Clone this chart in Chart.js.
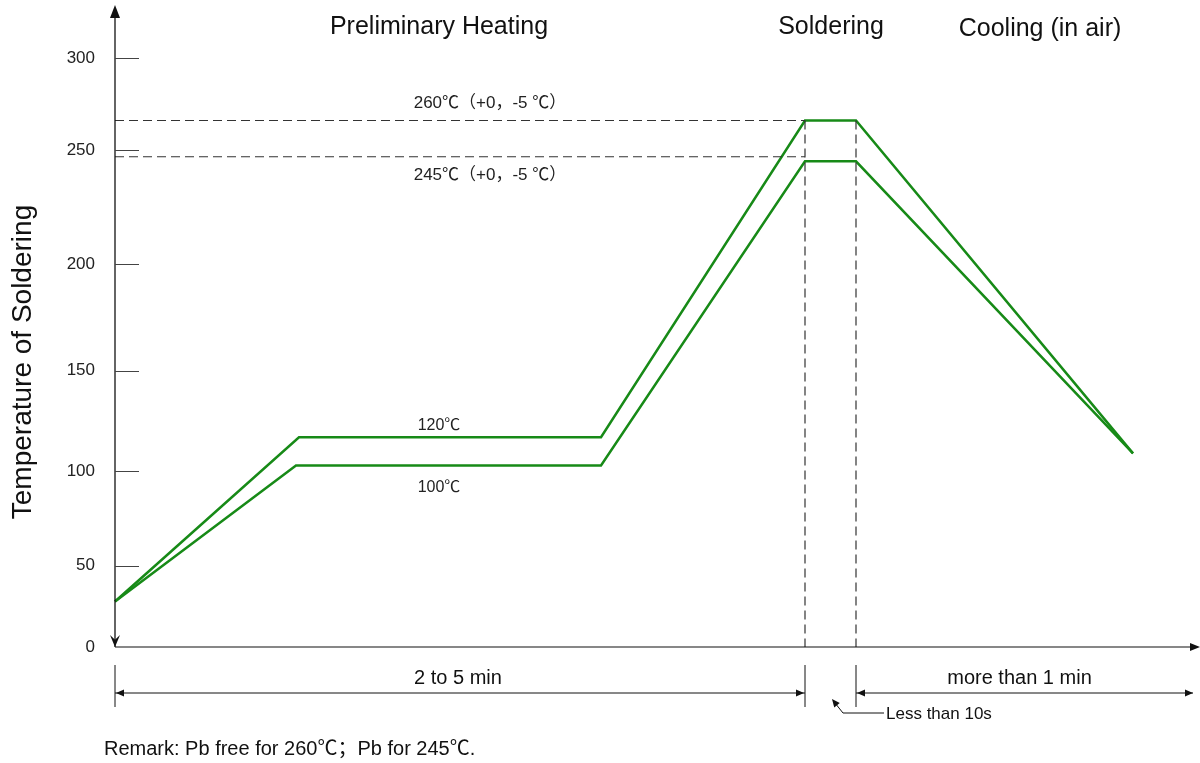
<!DOCTYPE html>
<html>
<head>
<meta charset="utf-8">
<script src="https://cdn.jsdelivr.net/npm/chart.js@4/dist/chart.umd.min.js"></script>
<style>
    body { margin: 0; background: #fff; }
</style>
</head>
<body>
<canvas id="profileChart" width="1200" height="763"></canvas>
<script>
// Soldering temperature profile (schematic)
// x = schematic time units, y = temperature in °C
const timeUpper = [0, 184, 486, 690, 741, 1018];
const tempUpper = [28, 117, 117, 266, 266, 109];   // Pb free (260℃)
const timeLower = [0, 181, 486, 690, 741, 1018];
const tempLower = [28, 103, 103, 245, 245, 109];   // Pb (245℃)
const yTickValues = [0, 50, 100, 150, 200, 250, 300];
const refTemps = [266, 247];          // dashed peak guides
const solderStart = 690;
const solderEnd = 741;
const coolingEnd = 1078;

const phaseTitles = ['Preliminary Heating', 'Soldering', 'Cooling (in air)'];
const FONT = '"Liberation Sans", Arial, sans-serif';
const CJK_FONT = '"Noto Sans CJK SC", sans-serif';
const GREEN = '#178a17';

// the drawn axis is not evenly spaced, so map ticks onto these fractions
const tickFractions = [0, 0.138, 0.298, 0.469, 0.650, 0.844, 1];

function valueToFraction(v) {
    for (let i = 1; i < yTickValues.length; i++) {
        if (v <= yTickValues[i] || i === yTickValues.length - 1) {
            const t = (v - yTickValues[i - 1]) / (yTickValues[i] - yTickValues[i - 1]);
            return tickFractions[i - 1] + t * (tickFractions[i] - tickFractions[i - 1]);
        }
    }
    return 0;
}
function fractionToValue(d) {
    for (let i = 1; i < tickFractions.length; i++) {
        if (d <= tickFractions[i] || i === tickFractions.length - 1) {
            const t = (d - tickFractions[i - 1]) / (tickFractions[i] - tickFractions[i - 1]);
            return yTickValues[i - 1] + t * (yTickValues[i] - yTickValues[i - 1]);
        }
    }
    return 0;
}

class SchematicScale extends Chart.LinearScale {
    getPixelForValue(value) {
        if (value === null || value === undefined) return NaN;
        return this.getPixelForDecimal(valueToFraction(value));
    }
    getValueForPixel(pixel) {
        return fractionToValue(this.getDecimalForPixel(pixel));
    }
}
SchematicScale.id = 'schematic';
SchematicScale.defaults = Chart.LinearScale.defaults;
Chart.register(SchematicScale);

function toPoints(xs, ys) {
    return xs.map((x, i) => ({ x: x, y: ys[i] }));
}

function arrowHead(ctx, x, y, dir, len, half) {
    ctx.beginPath();
    ctx.moveTo(x, y);
    if (dir === 'up') { ctx.lineTo(x - half, y + len); ctx.lineTo(x + half, y + len); }
    if (dir === 'down') { ctx.lineTo(x - half, y - len); ctx.lineTo(x, y - len * 0.6); ctx.lineTo(x + half, y - len); }
    if (dir === 'left') { ctx.lineTo(x + len, y - half); ctx.lineTo(x + len, y + half); }
    if (dir === 'right') { ctx.lineTo(x - len, y - half); ctx.lineTo(x - len, y + half); }
    ctx.closePath();
    ctx.fill();
}

function line(ctx, x1, y1, x2, y2) {
    ctx.beginPath();
    ctx.moveTo(x1, y1);
    ctx.lineTo(x2, y2);
    ctx.stroke();
}

// latin runs in Arial-like font, ℃ and full-width punctuation in the CJK font
function text(ctx, str, x, y, size, align, color) {
    const runs = [];
    for (const ch of str) {
        const cjk = '℃（），；'.includes(ch);
        const last = runs[runs.length - 1];
        if (last && last.cjk === cjk) last.s += ch;
        else runs.push({ s: ch, cjk: cjk });
    }
    ctx.textBaseline = 'alphabetic';
    ctx.textAlign = 'left';
    ctx.fillStyle = color || '#222';
    let total = 0;
    runs.forEach(r => {
        ctx.font = size + 'px ' + (r.cjk ? CJK_FONT : FONT);
        r.w = ctx.measureText(r.s).width;
        total += r.w;
    });
    let cx = x;
    if (align === 'center' || !align) cx = x - total / 2;
    if (align === 'right') cx = x - total;
    const base = y + size * 0.36;
    runs.forEach(r => {
        ctx.font = size + 'px ' + (r.cjk ? CJK_FONT : FONT);
        ctx.fillText(r.s, cx, base);
        cx += r.w;
    });
}

const decorations = {
    id: 'decorations',
    afterDraw(chart) {
        const ctx = chart.ctx;
        const xs = chart.scales.x;
        const ys = chart.scales.y;
        const x0 = xs.getPixelForValue(0);
        const y0 = ys.getPixelForValue(0);
        ctx.save();
        ctx.strokeStyle = '#111';
        ctx.fillStyle = '#111';
        ctx.lineWidth = 1.3;

        // y axis with arrows
        line(ctx, x0, 10, x0, y0);
        arrowHead(ctx, x0, 5, 'up', 13, 5);
        arrowHead(ctx, x0, y0, 'down', 12, 5);
        // tick marks
        ctx.strokeStyle = '#444';
        ctx.lineWidth = 1;
        yTickValues.forEach(v => {
            const py = Math.round(ys.getPixelForValue(v)) + 0.5;
            if (v > 0) line(ctx, x0, py, x0 + 24, py);
        });
        // x axis with arrow
        ctx.strokeStyle = '#111';
        ctx.lineWidth = 1.2;
        line(ctx, x0, y0, 1192, y0);
        arrowHead(ctx, 1200, y0, 'right', 10, 4);

        // duration markers under the axis
        const xs1 = xs.getPixelForValue(solderStart);
        const xs2 = xs.getPixelForValue(solderEnd);
        const xe = xs.getPixelForValue(coolingEnd);
        const barTop = y0 + 18, barBottom = y0 + 60, arrowY = y0 + 46;
        ctx.lineWidth = 1;
        [x0, xs1, xs2].forEach(px => line(ctx, px, barTop, px, barBottom));
        line(ctx, x0, arrowY, xs1, arrowY);
        arrowHead(ctx, x0 + 1, arrowY, 'left', 8, 3.5);
        arrowHead(ctx, xs1 - 1, arrowY, 'right', 8, 3.5);
        line(ctx, xs2, arrowY, xe, arrowY);
        arrowHead(ctx, xs2 + 1, arrowY, 'left', 8, 3.5);
        arrowHead(ctx, xe, arrowY, 'right', 8, 3.5);

        // "Less than 10s" leader
        line(ctx, 884, 713, 843, 713);
        line(ctx, 843, 713, 835, 703);
        ctx.save();
        ctx.translate(832, 699);
        ctx.rotate(Math.atan2(-10, -8));
        arrowHead(ctx, 0, 0, 'right', 8, 3.5);
        ctx.restore();

        // titles
        text(ctx, phaseTitles[0], 439, 25, 25, 'center', '#111');
        text(ctx, phaseTitles[1], 831, 25, 25, 'center', '#111');
        text(ctx, phaseTitles[2], 1040, 27, 25, 'center', '#111');

        ctx.save();
        ctx.translate(21, 362);
        ctx.rotate(-Math.PI / 2);
        text(ctx, 'Temperature of Soldering', 0, 0, 28, 'center', '#111');
        ctx.restore();

        // annotations
        text(ctx, '260℃（+0，-5 ℃）', 490, ys.getPixelForValue(refTemps[0]) - 19, 17, 'center', '#222');
        text(ctx, '245℃（+0，-5 ℃）', 490, ys.getPixelForValue(refTemps[1]) + 17, 17, 'center', '#222');
        text(ctx, '120℃', 439, ys.getPixelForValue(tempUpper[1]) - 13, 16, 'center', '#222');
        text(ctx, '100℃', 439, ys.getPixelForValue(tempLower[1]) + 21, 16, 'center', '#222');

        text(ctx, '2 to 5 min', (x0 + xs1) / 2 - 2, y0 + 30, 20, 'center', '#111');
        text(ctx, 'more than 1 min', (xs2 + xe) / 2 - 5, y0 + 30, 20, 'center', '#111');
        text(ctx, 'Less than 10s', 886, 713, 17, 'left', '#111');
        text(ctx, 'Remark: Pb free for 260℃；Pb for 245℃.', 104, 748, 20, 'left', '#111');
        ctx.restore();
    }
};

function profileLine(points) {
    return {
        data: points,
        borderColor: GREEN,
        borderWidth: 2.5,
        pointRadius: 0,
        tension: 0,
        fill: false,
        clip: false
    };
}
function guideLine(points) {
    return {
        data: points,
        borderColor: '#333',
        borderWidth: 1.2,
        borderDash: [9, 5],
        pointRadius: 0,
        tension: 0,
        fill: false,
        clip: false
    };
}

new Chart(document.getElementById('profileChart'), {
    type: 'line',
    data: {
        datasets: [
            guideLine([{ x: 0, y: refTemps[0] }, { x: solderStart, y: refTemps[0] }]),
            guideLine([{ x: 0, y: refTemps[1] }, { x: solderStart, y: refTemps[1] }]),
            guideLine([{ x: solderStart, y: refTemps[0] }, { x: solderStart, y: 0 }]),
            guideLine([{ x: solderEnd, y: refTemps[0] }, { x: solderEnd, y: 0 }]),
            profileLine(toPoints(timeUpper, tempUpper)),
            profileLine(toPoints(timeLower, tempLower))
        ]
    },
    options: {
        responsive: false,
        animation: false,
        layout: { padding: { top: 58, bottom: 116, left: 0, right: 0 } },
        plugins: {
            legend: { display: false },
            tooltip: { enabled: false }
        },
        scales: {
            x: { type: 'linear', min: 0, max: 1085, display: false },
            y: {
                type: 'schematic',
                min: 0,
                max: 300,
                afterFit: scale => { scale.width = 115; },
                afterBuildTicks: scale => { scale.ticks = yTickValues.map(v => ({ value: v })); },
                ticks: {
                    padding: 20,
                    color: '#222',
                    font: { size: 17, family: FONT }
                },
                grid: { display: false, drawTicks: false },
                border: { display: false }
            }
        }
    },
    plugins: [decorations]
});
</script>
</body>
</html>
